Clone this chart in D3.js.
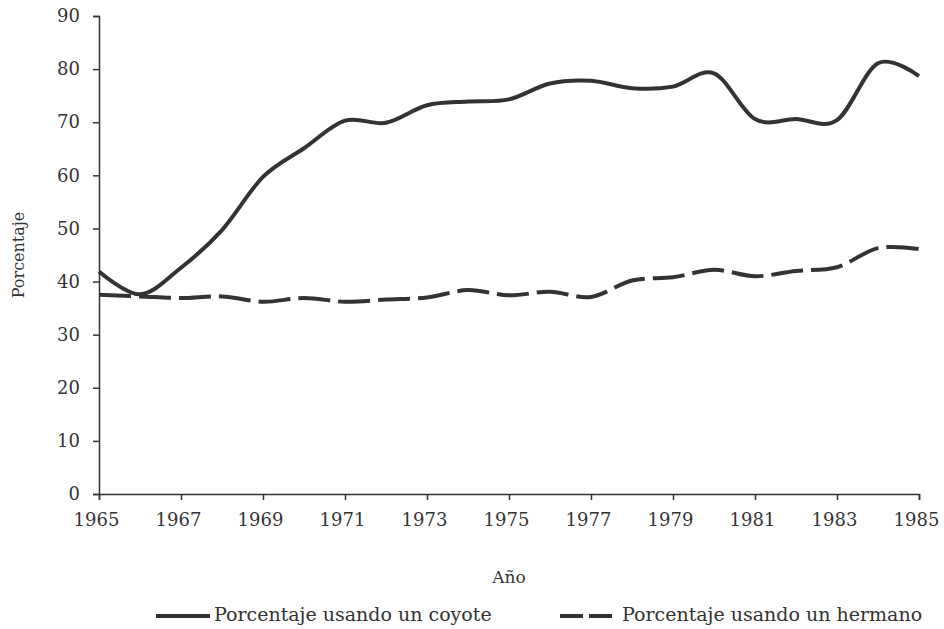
<!DOCTYPE html>
<html>
<head>
<meta charset="utf-8">
<script src="https://cdn.jsdelivr.net/npm/d3@7"></script>
<style>
  body { margin: 0; background: #fff; }
  svg text { font-family: "DejaVu Serif", serif; fill: #333; }
</style>
</head>
<body>
<svg width="944" height="629"></svg>
<script>
var years = d3.range(1965, 1986);
var coyote = [41.9, 37.6, 42.6, 49.7, 59.7, 65.1, 70.3, 69.9, 73.2, 73.9, 74.3,
              77.3, 77.8, 76.4, 76.7, 79.2, 70.6, 70.6, 70.4, 81.1, 78.7];
var hermano = [37.5, 37.2, 36.9, 37.2, 36.2, 36.9, 36.2, 36.6, 37.0, 38.4, 37.4,
               38.1, 37.1, 40.2, 40.8, 42.2, 41.0, 42.0, 42.7, 46.3, 46.1];
var xTicks = d3.range(1965, 1986, 2);
var yTicks = d3.range(0, 91, 10);

var svg = d3.select("svg"),
    margin = {left: 99, right: 25, top: 16, bottom: 135},
    width = +svg.attr("width"),
    height = +svg.attr("height");

var x = d3.scaleLinear().domain([1965, 1985]).range([margin.left, width - margin.right]);
var y = d3.scaleLinear().domain([0, 90]).range([height - margin.bottom, margin.top]);

var ink = "#333";
var font = "'DejaVu Serif', serif";

// axes
var xAxis = svg.append("g")
    .attr("transform", "translate(0," + y(0) + ")")
    .call(d3.axisBottom(x).tickValues(xTicks).tickFormat(d3.format("d")).tickSize(6).tickPadding(13));
var yAxis = svg.append("g")
    .attr("transform", "translate(" + x(1965) + ",0)")
    .call(d3.axisLeft(y).tickValues(yTicks).tickSize(6).tickPadding(13));

[xAxis, yAxis].forEach(function (g) {
    g.attr("font-family", null).attr("font-size", null);
    g.select(".domain").attr("stroke", ink).attr("stroke-width", 1.5);
    g.selectAll(".tick line").attr("stroke", ink).attr("stroke-width", 1.5);
    g.selectAll(".tick text").attr("fill", ink)
        .style("font-family", font).style("font-size", "18px");
});
xAxis.selectAll(".tick text").attr("dx", -3);

// lines
var line = function (vals) {
    return d3.line()
        .x(function (d, i) { return x(years[i]); })
        .y(function (d) { return y(d); })
        .curve(d3.curveCardinal.tension(0))(vals);
};

svg.append("path")
    .attr("d", line(coyote))
    .attr("fill", "none")
    .attr("stroke", ink)
    .attr("stroke-width", 4);

svg.append("path")
    .attr("d", line(hermano))
    .attr("fill", "none")
    .attr("stroke", ink)
    .attr("stroke-width", 4)
    .attr("stroke-dasharray", "32,8");

// axis titles
svg.append("text")
    .attr("x", (x(1965) + x(1985)) / 2)
    .attr("y", 583)
    .attr("text-anchor", "middle")
    .style("font-family", font)
    .style("font-size", "17px")
    .text("Año");

svg.append("text")
    .attr("transform", "translate(24," + y(45) + ") rotate(-90)")
    .attr("text-anchor", "middle")
    .style("font-family", font)
    .style("font-size", "16px")
    .text("Porcentaje");

// legend
var legY = 616;
svg.append("line")
    .attr("x1", 156).attr("x2", 210).attr("y1", legY).attr("y2", legY)
    .attr("stroke", ink).attr("stroke-width", 4);
svg.append("text")
    .attr("x", 214).attr("y", legY + 5)
    .style("font-family", font)
    .style("font-size", "19px")
    .text("Porcentaje usando un coyote");

svg.append("line")
    .attr("x1", 560).attr("x2", 612).attr("y1", legY).attr("y2", legY)
    .attr("stroke", ink).attr("stroke-width", 4)
    .attr("stroke-dasharray", "23,6");
svg.append("text")
    .attr("x", 622).attr("y", legY + 5)
    .style("font-family", font)
    .style("font-size", "19px")
    .text("Porcentaje usando un hermano");
</script>
</body>
</html>
